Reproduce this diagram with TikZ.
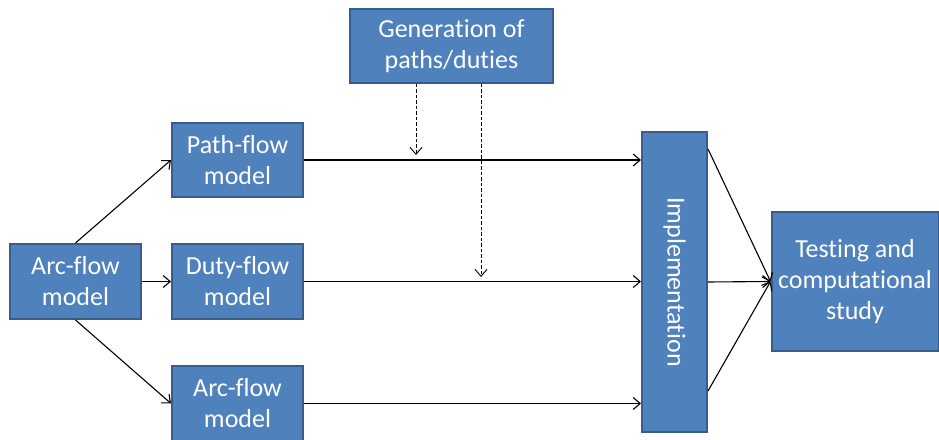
\documentclass[tikz,border=0pt]{standalone}
\usepackage{fontspec}
\setmainfont{Carlito}[Ligatures=NoCommon]
\usetikzlibrary{arrows.meta}
\usetikzlibrary{positioning}
\definecolor{boxblue}{HTML}{4F81BD}
\definecolor{boxedge}{HTML}{385D8A}

\begin{document}
\begin{tikzpicture}[x=1pt,y=1pt,
  block/.style={draw=boxedge, fill=boxblue, line width=2pt, text=white,
    align=center, inner sep=0pt, font=\fontsize{26}{31}\selectfont},
  flow/.style={-{Straight Barb[length=7pt,width=12pt]}, line width=1.1pt},
  feed/.style={flow, line width=0.9pt, dash pattern=on 3.5pt off 2pt}]
  \useasboundingbox (0,0) rectangle (939,439);
  % Source box
  \node[block, minimum width=203pt, minimum height=74pt] (gen) at (451.5,393) {Generation of\\paths/duties};
  % Model boxes
  \node[block, minimum width=131pt, minimum height=75pt] (arcA) at (75.5,157.5) {Arc-flow\\model};
  \node[block, minimum width=131pt, minimum height=74pt] (path) at (237.5,279) {Path-flow\\model};
  \node[block, minimum width=131pt, minimum height=75pt] (duty) at (237.5,157.5) {Duty-flow\\model};
  \node[block, minimum width=131pt, minimum height=75pt] (arcB) at (237.5,35.5) {Arc-flow\\model};
  % Implementation and testing
  \node[block, minimum width=65pt, minimum height=300pt] (impl) at (674.5,157) {};
  \node[text=white, rotate=-90, font=\fontsize{26}{31}\selectfont] (impltext) at (impl.center) {Implementation};
  \node[block, minimum width=167pt, minimum height=139pt] (test) at (855,157.5) {Testing and\\computational\\study};
  % Ends of the dashed feeds
  \coordinate (d1) at (416,284);
  \coordinate (d2) at (481,162);
  % Connectors
  \draw[flow] (arcA.north) -- (path.west);
  \draw[flow] (arcA) -- (duty);
  \draw[flow] (arcA.south) -- (arcB.west);
  \draw[flow] (path.east) -- (path.east -| impl.west);
  \draw[flow] (duty.east) -- (duty.east -| impl.west);
  \draw[flow] (arcB.east) -- (arcB.east -| impl.west);
  \draw[flow] ([yshift=-18pt]impl.north east) -- (test.west);
  \draw[flow] (impl.east) -- (test.west);
  \draw[flow] ([yshift=42pt]impl.south east) -- (test.west);
  \draw[feed] (gen.south -| d1) -- (d1);
  \draw[feed] (gen.south -| d2) -- (d2);
\end{tikzpicture}
\end{document}
